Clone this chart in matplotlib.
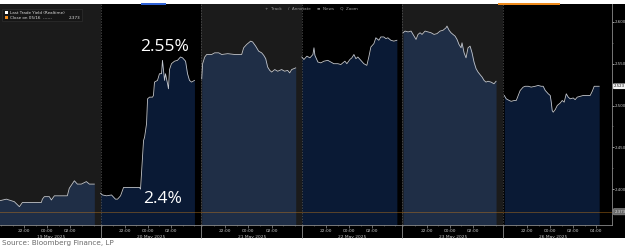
import matplotlib
matplotlib.use("Agg")
import matplotlib.pyplot as plt
import matplotlib.transforms as mtransforms
from matplotlib.patches import Rectangle

# ---------------- data ----------------
days = ["19 May 2025", "20 May 2025", "21 May 2025", "22 May 2025", "23 May 2025", "26 May 2025"]

# hours relative to local midnight of each session
d1_hours = [-4.16, -3.55, -2.86, -2.42, -2.16, -1.56, -0.52, -0.43, -0.26, 0.17, 0.35, 0.61,
            1.73, 1.90, 2.34, 2.60, 2.94, 3.38, 3.64, 4.07]
d1_yield = [2.386, 2.388, 2.385, 2.379, 2.384, 2.384, 2.384, 2.388, 2.391, 2.391, 2.387, 2.392,
            2.392, 2.401, 2.410, 2.406, 2.406, 2.409, 2.406, 2.406]

d2_hours = [-4.10, -3.93, -3.58, -3.15, -2.81, -2.63, -2.37, -2.11, -1.59, -0.73, -0.64, -0.38,
            -0.29, -0.12, -0.03, 0.14, 0.40, 0.48, 0.57, 0.83, 1.00, 1.18, 1.26, 1.44, 1.52,
            1.70, 1.78, 1.87, 2.04, 2.30, 2.56, 2.82, 3.00, 3.26, 3.43, 3.60, 3.78, 4.03]
d2_yield = [2.395, 2.393, 2.392, 2.393, 2.388, 2.388, 2.392, 2.402, 2.402, 2.402, 2.400, 2.458,
            2.462, 2.478, 2.508, 2.510, 2.510, 2.512, 2.528, 2.530, 2.538, 2.538, 2.554, 2.530, 2.538,
            2.526, 2.520, 2.543, 2.550, 2.553, 2.554, 2.558, 2.557, 2.553, 2.538, 2.530, 2.528, 2.530]

d3_hours = [-4.05, -3.97, -3.79, -3.62, -3.19, -2.93, -2.58, -2.32, -1.80, -1.19, -0.59, -0.42,
            -0.16, 0.19, 0.36, 0.62, 0.88, 1.14, 1.32, 1.49, 1.66, 1.84, 2.01, 2.27, 2.53,
            2.87, 3.13, 3.39, 3.57, 3.74, 4.09]
d3_yield = [2.532, 2.550, 2.558, 2.561, 2.561, 2.563, 2.563, 2.561, 2.562, 2.561, 2.561, 2.569,
            2.573, 2.577, 2.576, 2.571, 2.565, 2.563, 2.560, 2.556, 2.546, 2.542, 2.540, 2.543, 2.541,
            2.543, 2.541, 2.542, 2.539, 2.543, 2.545]

d4_hours = [-4.09, -3.91, -3.65, -3.39, -3.13, -3.04, -2.96, -2.70, -2.44, -2.18, -1.84, -1.58,
            -1.32, -0.97, -0.71, -0.54, -0.36, -0.19, 0.07, 0.24, 0.42, 0.59, 0.76, 1.02, 1.28,
            1.54, 1.71, 1.89, 2.15, 2.32, 2.58, 2.75, 3.01, 3.19, 3.36, 3.62, 3.88, 4.14]
d4_yield = [2.558, 2.555, 2.559, 2.557, 2.561, 2.569, 2.560, 2.552, 2.551, 2.553, 2.554, 2.552,
            2.550, 2.550, 2.549, 2.551, 2.553, 2.550, 2.555, 2.557, 2.561, 2.556, 2.558, 2.554, 2.550,
            2.548, 2.558, 2.570, 2.574, 2.581, 2.578, 2.582, 2.582, 2.580, 2.581, 2.578, 2.577, 2.578]

d5_hours = [-4.03, -3.86, -3.60, -3.34, -3.17, -2.91, -2.74, -2.56, -2.39, -2.13, -1.87, -1.61,
            -1.35, -1.09, -0.83, -0.57, -0.31, -0.23, -0.05, 0.12, 0.29, 0.47, 0.64, 0.81, 0.99,
            1.07, 1.25, 1.42, 1.59, 1.77, 1.94, 2.11, 2.29, 2.46, 2.63, 2.81, 2.98, 3.15, 3.32,
            3.58, 3.84, 4.02]
d5_yield = [2.587, 2.589, 2.588, 2.589, 2.585, 2.579, 2.585, 2.587, 2.585, 2.589, 2.588, 2.587,
            2.585, 2.586, 2.589, 2.590, 2.593, 2.595, 2.590, 2.587, 2.585, 2.583, 2.579, 2.573, 2.569,
            2.575, 2.563, 2.557, 2.569, 2.571, 2.563, 2.552, 2.544, 2.540, 2.537, 2.534, 2.530, 2.528,
            2.529, 2.528, 2.526, 2.529]

d6_hours = [-3.98, -3.81, -3.55, -3.38, -3.12, -2.94, -2.77, -2.60, -2.34, -2.16, -1.90, -1.65,
            -1.30, -1.04, -0.78, -0.61, -0.43, -0.17, 0.00, 0.09, 0.17, 0.26, 0.43, 0.61, 0.87,
            1.04, 1.21, 1.39, 1.56, 1.73, 1.99, 2.16, 2.34, 2.60, 2.86, 3.03, 3.29, 3.46, 3.64,
            3.81, 4.07, 4.24]
d6_yield = [2.512, 2.508, 2.506, 2.505, 2.506, 2.506, 2.512, 2.518, 2.522, 2.523, 2.523, 2.522,
            2.523, 2.524, 2.523, 2.523, 2.518, 2.514, 2.512, 2.504, 2.494, 2.492, 2.495, 2.500, 2.503,
            2.506, 2.504, 2.514, 2.510, 2.508, 2.509, 2.507, 2.510, 2.511, 2.512, 2.512, 2.512, 2.512,
            2.517, 2.523, 2.523, 2.523]

all_hours = [d1_hours, d2_hours, d3_hours, d4_hours, d5_hours, d6_hours]
all_yield = [d1_yield, d2_yield, d3_yield, d4_yield, d5_yield, d6_yield]

close_level = 2.373
close_label = "2.373"
last_value = 2.523
last_label = "2.523"
yticks = [2.400, 2.450, 2.500, 2.550, 2.600]
tick_hours = [-2, 0, 2]
tick_names = ["22:00", "00:00", "02:00"]
last_tick_hour = 4
last_tick_name = "04:00"
note_high = "2.55%"
note_low = "2.4%"
source = "Source: Bloomberg Finance, LP"

# ---------------- layout ----------------
W, H = 625, 249
SEG = 8.71      # width of one session on the axis (hours)
START = 4.1     # session starts 4.1 h before midnight
XMAX = 53.0
YMIN, YMAX = 2.3571, 2.6214

def px(x): return x / W
def py(y): return 1 - y / H

fig = plt.figure(figsize=(W / 100, H / 100), dpi=100, facecolor="white")
# dark terminal background
fig.patches.append(Rectangle((0, py(238)), 1, (238 - 4) / H, transform=fig.transFigure,
                             facecolor="#000000", edgecolor="none", zorder=-5))

ax = fig.add_axes([0, py(225), px(612), (225 - 4) / H])
ax.set_zorder(1)
ax.set_facecolor("#000000")
ax.set_xlim(0, XMAX)
ax.set_ylim(YMIN, YMAX)

bg_cols = ["#1b1b1b", "#000000"]
fill_cols = ["#1f2e46", "#0a1a35"]

for d, (hrs, vals) in enumerate(zip(all_hours, all_yield)):
    x0 = d * SEG
    x1 = XMAX if d == len(days) - 1 else (d + 1) * SEG
    ax.axvspan(x0, x1, color=bg_cols[d % 2], zorder=0, lw=0)
    xs = [x0 + START + h for h in hrs]
    ax.fill_between(xs, vals, YMIN, color=fill_cols[d % 2], lw=0, zorder=1)
    ax.plot(xs, vals, color="#c2c6cd", lw=0.6, zorder=3)
    if d > 0:
        ax.axvline(x0, color="#5a5a5a", lw=0.5, ls=(0, (2, 2)), zorder=2)

ax.axhline(close_level, color="#c47a1c", lw=0.6, ls=(0, (1.2, 1.2)), zorder=4)

# x ticks
major_pos, major_lab, minor_pos = [], [], []
for d in range(len(days)):
    mid = d * SEG + START
    for h, n in zip(tick_hours, tick_names):
        major_pos.append(mid + h)
        major_lab.append(n)
    if d == len(days) - 1:
        major_pos.append(mid + last_tick_hour)
        major_lab.append(last_tick_name)
    for h in range(-4, 5):
        if h not in tick_hours and 0 <= mid + h <= XMAX:
            minor_pos.append(mid + h)
ax.set_xticks(major_pos)
ax.set_xticklabels(major_lab)
ax.set_xticks(minor_pos, minor=True)
ax.tick_params(axis="x", which="major", length=1.8, width=0.4, color="#bbbbbb",
               labelsize=3.2, labelcolor="#c8c8c8", pad=1.2)
ax.tick_params(axis="x", which="minor", length=1.0, width=0.4, color="#888888")

tb = mtransforms.blended_transform_factory(ax.transData, ax.transAxes)
for d, name in enumerate(days):
    ax.text(d * SEG + START + 0.3, -0.045, name, transform=tb, ha="center", va="top",
            fontsize=3.2, color="#c8c8c8", clip_on=False)
    if d > 0:
        ax.plot([d * SEG, d * SEG], [0, -0.06], transform=tb, color="#aaaaaa", lw=0.5,
                clip_on=False)

# y axis on the right
ax.yaxis.tick_right()
ax.set_yticks(yticks)
ax.set_yticklabels([f"{v:.3f}" for v in yticks])
ax.set_yticks([2.375, 2.425, 2.475, 2.525, 2.575], minor=True)
ax.tick_params(axis="y", which="major", length=1.5, width=0.5, color="#dddddd",
               labelsize=2.9, labelcolor="#c8c8c8", pad=0.6)
ax.tick_params(axis="y", which="minor", length=1.0, width=0.4, color="#999999")
for s in ["top", "left"]:
    ax.spines[s].set_visible(False)
ax.spines["right"].set_color("#8a8a8a")
ax.spines["right"].set_linewidth(0.6)
ax.spines["bottom"].set_color("#8a8a8a")
ax.spines["bottom"].set_linewidth(0.6)

ta = mtransforms.blended_transform_factory(ax.transAxes, ax.transData)
ax.text(1.003, last_value, last_label, transform=ta, ha="left", va="center", fontsize=2.8,
        color="#111111", clip_on=False,
        bbox=dict(boxstyle="round,pad=0.2", fc="#f2f2f2", ec="none"))
ax.text(1.004, close_level, close_label, transform=ta, ha="left", va="center", fontsize=2.8,
        color="#dddddd", clip_on=False,
        bbox=dict(boxstyle="round,pad=0.3", fc="#6a6a6a", ec="#9a9a9a", lw=0.4))

# big annotations
ax.text(1 * SEG + START + 1.44, 2.5655, note_high, ha="center", va="baseline",
        fontsize=12.5, color="white", family="Open Sans", zorder=6)
ax.text(1 * SEG + START + 1.31, 2.3839, note_low, ha="center", va="baseline",
        fontsize=12.5, color="white", family="Open Sans", zorder=6)

# top colored tabs
fig.patches.append(Rectangle((px(141), py(5.5)), 25 / W, 2.5 / H, transform=fig.transFigure,
                             facecolor="#2f62d6", edgecolor="none", zorder=5))
fig.patches.append(Rectangle((px(498), py(5.5)), 62 / W, 2.5 / H, transform=fig.transFigure,
                             facecolor="#ee8a1c", edgecolor="none", zorder=5))

# legend box
fig.patches.append(Rectangle((px(2), py(21)), 80 / W, 12 / H, transform=fig.transFigure,
                             facecolor="#161616", edgecolor="#333333", lw=0.4, zorder=5))
fig.patches.append(Rectangle((px(5), py(14)), 3 / W, 3 / H, transform=fig.transFigure,
                             facecolor="#ffffff", edgecolor="none", zorder=6))
fig.patches.append(Rectangle((px(5), py(19.5)), 3 / W, 3 / H, transform=fig.transFigure,
                             facecolor="#ee8a1c", edgecolor="none", zorder=6))
fig.text(px(10), py(12.5), "Last Trade Yield (Realtime)", fontsize=3.0, color="#dddddd",
         va="center", zorder=7)
fig.text(px(10), py(18), "Close on 05/16  ------", fontsize=3.0, color="#dddddd",
         va="center", zorder=7)
fig.text(px(80), py(18), close_label, fontsize=3.0, color="#dddddd", va="center", ha="right",
         zorder=7)

# toolbar
fig.text(px(311), py(9), "+  Track     /  Annotate     \u2261  News     Q  Zoom", fontsize=3.0,
         color="#9a9a9a", ha="center", va="center", zorder=7)

fig.text(px(2), py(243), source, fontsize=5.2, color="#6a6a6a", ha="left", va="center")

fig.savefig("out.png", dpi=100, facecolor="white")
